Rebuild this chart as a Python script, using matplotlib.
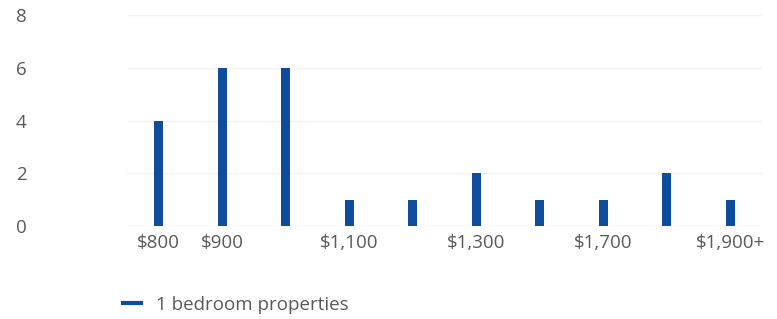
import matplotlib
matplotlib.use("Agg")
import matplotlib.pyplot as plt
from matplotlib.lines import Line2D

plt.rcParams['font.family'] = ['Open Sans', 'DejaVu Sans']

# data
categories = ["$800", "$900", "$1,000", "$1,100", "$1,200",
              "$1,300", "$1,500", "$1,700", "$1,800", "$1,900+"]
counts = [4, 6, 6, 1, 1, 2, 1, 1, 2, 1]
shown_labels = ["$800", "$900", "$1,100", "$1,300", "$1,700", "$1,900+"]
y_ticks = [0, 2, 4, 6, 8]
series_name = "1 bedroom properties"

bar_color = "#0f4c9c"
text_color = "#5a5a5a"
fsize = 13.5

fig = plt.figure(figsize=(7.77, 3.19), dpi=100)
ax = fig.add_axes([0.1634, 0.2915, 0.8173, 0.6615])

x = range(len(categories))
ax.bar(x, counts, width=0.14, color=bar_color, zorder=3)

ax.set_xlim(-0.5, len(categories) - 0.5)
ax.set_ylim(0, 8)
ax.set_yticks(y_ticks)
ax.set_xticks(list(x))
ax.set_xticklabels([c if c in shown_labels else "" for c in categories])

ax.grid(axis='y', color='#f3f3f3', linewidth=1, zorder=0)
for s in ax.spines.values():
    s.set_visible(False)
ax.axhline(0, color='#eeeeee', linewidth=1, zorder=1)

ax.tick_params(axis='both', length=0, labelsize=fsize, labelcolor=text_color)
ax.tick_params(axis='y', pad=80)
for lbl in ax.get_yticklabels():
    lbl.set_horizontalalignment('left')
ax.tick_params(axis='x', pad=6)

handle = Line2D([0], [0], color=bar_color, linewidth=3)
fig.legend([handle], [series_name], loc='center left',
           bbox_to_anchor=(0.137, 0.045), frameon=False,
           fontsize=fsize, labelcolor=text_color, handlelength=0.95,
           handletextpad=0.8)

fig.savefig("out.png", dpi=100)
